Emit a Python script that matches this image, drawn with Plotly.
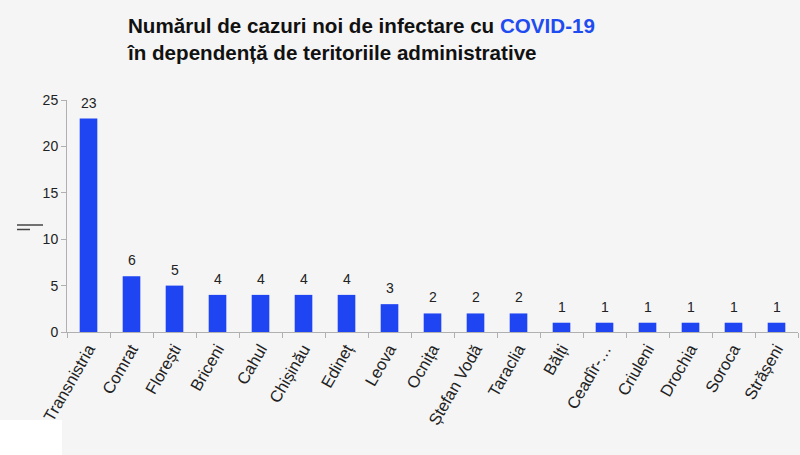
import plotly.graph_objects as go

categories = ["Transnistria", "Comrat", "Florești", "Briceni", "Cahul", "Chișinău",
              "Edineț", "Leova", "Ocnița", "Ștefan Vodă", "Taraclia", "Bălți",
              "Ceadîr-…", "Criuleni", "Drochia", "Soroca", "Strășeni"]
values = [23, 6, 5, 4, 4, 4, 4, 3, 2, 2, 2, 1, 1, 1, 1, 1, 1]
y_ticks = [0, 5, 10, 15, 20, 25]

BG = "#f5f5f5"
BLUE = "#1f45f2"
FONT = "Liberation Sans, Arial, sans-serif"

fig = go.Figure(go.Bar(
    x=categories, y=values,
    marker=dict(color=BLUE, line=dict(width=0)),
    width=0.41,
    cliponaxis=False,
))

annotations = [
    dict(x=c, y=v, xref="x", yref="y", text=str(v), showarrow=False,
         yanchor="bottom", yshift=6,
         font=dict(size=14, color="#222222", family=FONT))
    for c, v in zip(categories, values)
]
annotations.append(dict(
    text="<b>Numărul de cazuri noi de infectare cu <span style='color:#1f4cf0'>COVID-19</span>"
         "<br>în dependență de teritoriile administrative</b>",
    xref="paper", yref="paper", x=(125 - 67) / 731, y=(332 - 12) / 232,
    xanchor="left", yanchor="top", align="left", showarrow=False,
    font=dict(size=20.6, color="#111111", family=FONT),
))

fig.update_layout(
    width=800, height=455,
    paper_bgcolor=BG, plot_bgcolor=BG,
    margin=dict(l=67, r=2, t=100, b=123),
    font=dict(family=FONT, color="#222222"),
    showlegend=False,
    bargap=0.59,
    annotations=annotations,
    xaxis=dict(
        type="category", tickangle=-60, tickson="boundaries",
        ticks="outside", ticklen=5, tickcolor="#b0b0b0",
        showline=True, linecolor="#b0b0b0", linewidth=1,
        tickfont=dict(size=16.5, color="#222222", family=FONT),
        showgrid=False,
    ),
    yaxis=dict(
        range=[0, 25], tickvals=y_ticks,
        ticks="outside", ticklen=5, tickcolor="#b0b0b0",
        showline=True, linecolor="#b0b0b0", linewidth=1,
        tickfont=dict(size=14, color="#222222", family=FONT),
        showgrid=False, zeroline=False,
    ),
    shapes=[
        dict(type="rect", xref="paper", yref="paper",
             x0=-67/731, x1=-5/731, y0=-(420-332)/232, y1=-(460-332)/232,
             fillcolor="white", line=dict(width=0), layer="below"),
        dict(type="line", xref="paper", yref="paper",
             x0=-50/731, x1=-24/731, y0=(332-225)/232, y1=(332-225)/232,
             line=dict(color="#444444", width=1.5)),
        dict(type="line", xref="paper", yref="paper",
             x0=-50/731, x1=-37/731, y0=(332-229.5)/232, y1=(332-229.5)/232,
             line=dict(color="#444444", width=1.5)),
    ],
)

fig.write_html("out.html")
